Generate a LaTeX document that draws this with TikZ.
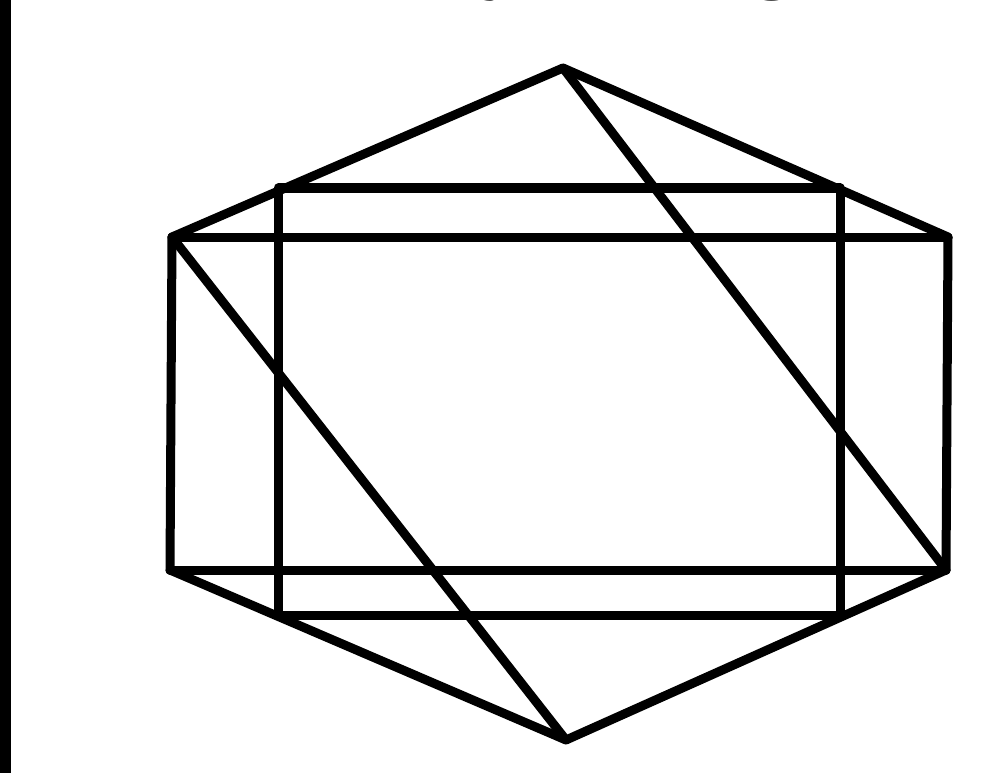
\documentclass[tikz,border=0pt]{standalone}
\usepackage{fontspec}
\setmainfont{Liberation Serif}
\begin{document}
\begin{tikzpicture}[x=1pt,y=-1pt,
  edge/.style={draw=black,line width=9pt,line join=round,line cap=round},
  glyph/.style={inner sep=0pt,anchor=base west,font=\fontsize{82}{82}\selectfont}]
\useasboundingbox (0,0) rectangle (1007,773);
\clip (0,0) rectangle (1007,773);
\fill[white] (0,0) rectangle (1007,773);
\fill[black] (0,0) rectangle (11,773);
% cut-off title glyphs
\node[glyph] (ty) at (482,-16) {y};
\node[glyph] (tg) at (752,-16) {g};
% hexagon vertices
\coordinate (T)  at (563,68);
\coordinate (UR) at (948,237);
\coordinate (LR) at (946,570);
\coordinate (B)  at (566,740);
\coordinate (LL) at (170,570);
\coordinate (UL) at (172,237);
% inner rectangle corners
\coordinate (IUL) at (278,188);
\coordinate (IUR) at (840,188);
\coordinate (ILR) at (840,615);
\coordinate (ILL) at (278,615);
% hexagon
\draw[edge] (T) -- (UR) -- (LR) -- (B) -- (LL) -- (UL) -- cycle;
% outer rectangle horizontals
\draw[edge] (UL) -- (UR);
\draw[edge] (LL) -- (LR);
% inner rectangle
\draw[edge] (IUL) -- (IUR) -- (ILR) -- (ILL) -- cycle;
% diagonals
\draw[edge] (T) -- (LR);
\draw[edge] (UL) -- (B);
\end{tikzpicture}
\end{document}
